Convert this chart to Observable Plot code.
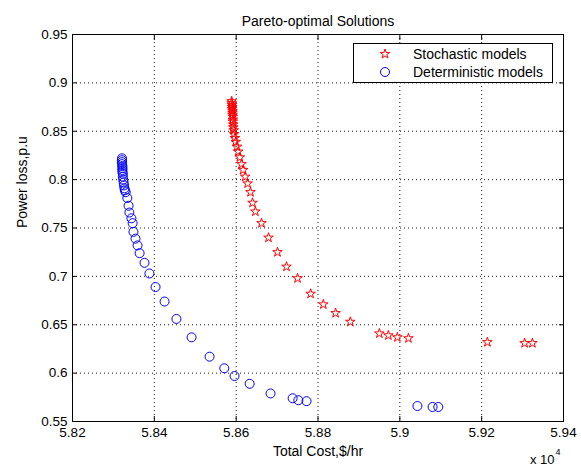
<!DOCTYPE html>
<html><head><meta charset="utf-8">
<script src="https://cdn.jsdelivr.net/npm/d3@7"></script>
<script src="https://cdn.jsdelivr.net/npm/@observablehq/plot@0.6"></script>
<style>
body{margin:0;background:#fff;}
#chart{width:581px;height:468px;}
</style></head><body><div id="chart"></div>
<script>
// Total cost in units of 10^4 $/hr, power loss in p.u.
const stochCost = [5.8589,5.8589,5.8590,5.8590,5.8590,5.8591,5.8591,5.8591,5.8592,5.8592,5.8592,5.8593,5.8593,5.8594,5.8595,5.8597,5.8599,5.8602,5.8605,5.8609,5.8613,5.8617,5.8622,5.8628,5.8635,5.8640,5.8647,5.8662,5.8679,5.8701,5.8723,5.8750,5.8782,5.8813,5.8843,5.8879,5.8950,5.8972,5.8994,5.9021,5.9214,5.9305,5.9324];
const stochLoss = [0.881,0.879,0.877,0.875,0.873,0.871,0.869,0.867,0.865,0.862,0.860,0.857,0.854,0.851,0.847,0.843,0.839,0.834,0.829,0.823,0.816,0.810,0.803,0.796,0.787,0.776,0.767,0.755,0.740,0.725,0.710,0.698,0.682,0.671,0.662,0.653,0.641,0.639,0.637,0.636,0.632,0.631,0.631];
const detCost = [5.8321,5.8321,5.8321,5.8321,5.8322,5.8322,5.8322,5.8322,5.8323,5.8323,5.8324,5.8325,5.8326,5.8327,5.8328,5.8330,5.8334,5.8337,5.8339,5.8344,5.8347,5.8349,5.8354,5.8359,5.8364,5.8376,5.8388,5.8403,5.8425,5.8454,5.8491,5.8535,5.8571,5.8596,5.8633,5.8684,5.8738,5.8752,5.8772,5.9043,5.9080,5.9094];
const detLoss = [0.822,0.820,0.818,0.816,0.814,0.812,0.810,0.808,0.806,0.803,0.800,0.797,0.794,0.791,0.789,0.787,0.781,0.773,0.766,0.760,0.755,0.746,0.739,0.732,0.724,0.714,0.703,0.689,0.674,0.656,0.637,0.617,0.605,0.597,0.589,0.579,0.574,0.572,0.571,0.566,0.565,0.565];
const xTicks = [5.82,5.84,5.86,5.88,5.9,5.92,5.94];
const yTicks = [0.55,0.6,0.65,0.7,0.75,0.8,0.85,0.9,0.95];
const seriesNames = ["Stochastic models","Deterministic models"];
const titleText = "Pareto-optimal Solutions";
const xLabel = "Total Cost,$/hr";
const yLabel = "Power loss,p.u";

const stoch = stochCost.map((c,i)=>({cost:c, loss:stochLoss[i]}));
const det = detCost.map((c,i)=>({cost:c, loss:detLoss[i]}));
const RED = "#ff0000", BLUE = "#0000ff";
const FONT = "'Liberation Sans', Arial, Helvetica, sans-serif";

const legend = () => {
  const g = d3.create("svg:g");
  g.append("rect").attr("x",353.5).attr("y",43.5).attr("width",199).attr("height",39)
    .attr("fill","white").attr("stroke","black");
  const items = [
    {name: seriesNames[0], color: RED, sym: d3.symbolStar, r: 3, y: 54},
    {name: seriesNames[1], color: BLUE, sym: d3.symbolCircle, r: 4.5, y: 72}
  ];
  for (const it of items) {
    g.append("path").attr("transform",`translate(385,${it.y})`)
      .attr("d", d3.symbol(it.sym, it.r*it.r*Math.PI)())
      .attr("fill","none").attr("stroke",it.color).attr("stroke-width",1);
    g.append("text").attr("x",413).attr("y",it.y).attr("dy","0.35em")
      .attr("text-anchor","start")
      .attr("font-size",14).attr("font-family",FONT).attr("fill","black").text(it.name);
  }
  return g.node();
};

const fmt = d => String(d);
const chart = Plot.plot({
  width: 581, height: 468,
  marginLeft: 72, marginRight: 18, marginTop: 34, marginBottom: 47,
  style: {fontFamily: FONT, fontSize: "14px", background: "white", color: "black"},
  x: {domain: [5.82, 5.94]},
  y: {domain: [0.55, 0.95]},
  marks: [
    Plot.gridX(xTicks, {stroke: "black", strokeOpacity: 0.9, strokeDasharray: "1,3"}),
    Plot.gridY(yTicks, {stroke: "black", strokeOpacity: 0.9, strokeDasharray: "1,3"}),
    Plot.axisX(xTicks, {anchor: "bottom", tickSize: -5, tickPadding: 11, tickFormat: fmt, label: null, fontSize: 13.5}),
    Plot.axisX(xTicks, {anchor: "top", tickSize: -5, tickFormat: () => "", label: null}),
    Plot.axisY(yTicks, {anchor: "left", tickSize: -5, tickPadding: 10, tickFormat: fmt, label: null, fontSize: 13.5}),
    Plot.axisY(yTicks, {anchor: "right", tickSize: -5, tickFormat: () => "", label: null}),
    Plot.dot(stoch, {x: "cost", y: "loss", symbol: "star", r: 3, stroke: RED, fill: "none", strokeWidth: 1}),
    Plot.dot(det, {x: "cost", y: "loss", symbol: "circle", r: 4.5, stroke: BLUE, fill: "none", strokeWidth: 1}),
    Plot.frame({stroke: "black"}),
    legend,
    Plot.text([titleText], {frameAnchor: "top", dy: -18, fontSize: 14, text: d => d}),
    Plot.text([xLabel], {frameAnchor: "bottom", dy: 34, fontSize: 14, text: d => d}),
    Plot.text([yLabel], {frameAnchor: "left", dx: -50, rotate: -90, fontSize: 14, text: d => d}),
    Plot.text(["x 10"], {frameAnchor: "bottom-right", dx: -9, dy: 42, textAnchor: "end", fontSize: 13, text: d => d}),
    Plot.text(["4"], {frameAnchor: "bottom-right", dx: -8, dy: 33, textAnchor: "start", fontSize: 9, text: d => d})
  ]
});
document.getElementById("chart").appendChild(chart);
</script>
</body></html>
